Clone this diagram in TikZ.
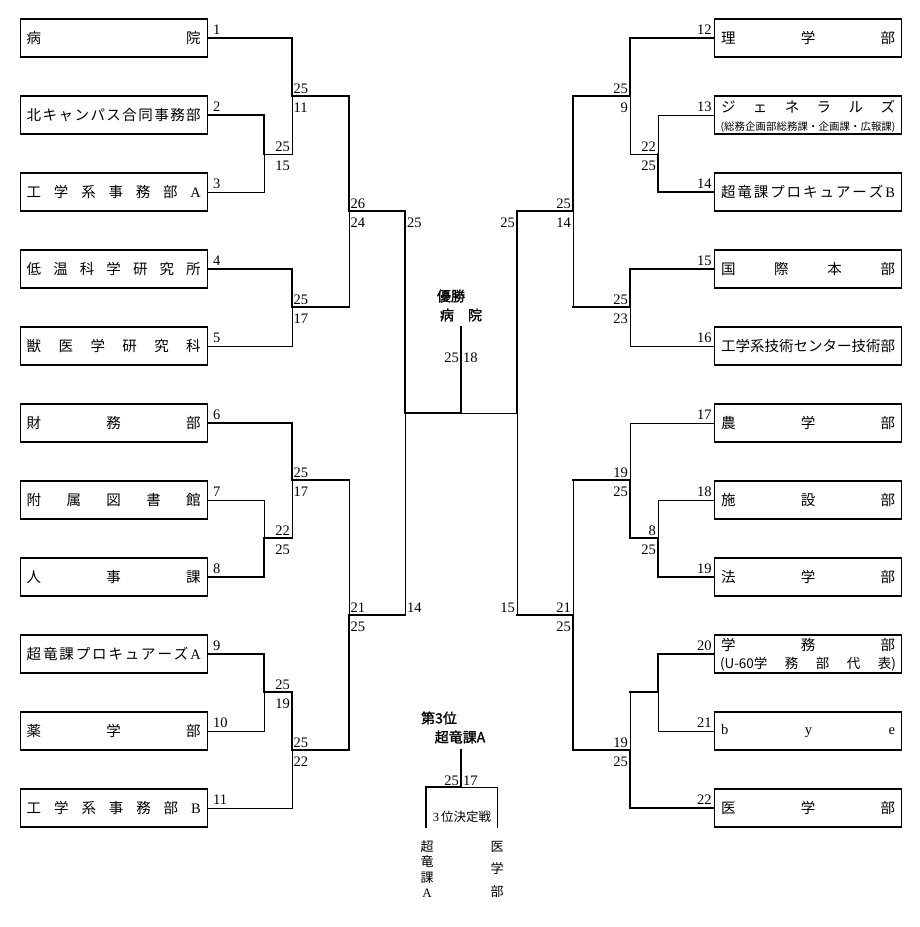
\documentclass[tikz,border=0pt]{standalone}
\usepackage{fontspec}
\setmainfont{Liberation Serif}
\newfontfamily\cjk{Noto Sans CJK JP}
\newfontfamily\cjkb{Noto Sans CJK JP}[FakeBold=1.5]
\newlength\tw \setlength\tw{174pt}
\def\sprloop#1{\ifx#1\relax\else#1\expandafter\sprnext\fi}
\def\sprnext#1{\ifx#1\relax\else\hfill#1\expandafter\sprnext\fi}
\newcommand\spr[1]{\makebox[\tw][s]{\sprloop#1\relax}}
\newcommand\LA{{\rmfamily A}}
\newcommand\LB{{\rmfamily B}}
\tikzset{
  team/.style={draw=black, line width=1.2pt, minimum width=187pt, minimum height=38pt, inner sep=0pt, font=\fontsize{14.5}{16}\selectfont\cjk},
  win/.style={line width=2.3pt, line cap=rect},
  lose/.style={line width=1pt, line cap=rect},
  num/.style={inner sep=0pt, font=\fontsize{14.5}{15}\selectfont},
  txt/.style={inner sep=0pt},
}
\begin{document}
\begin{tikzpicture}[x=1pt, y=-1pt]
\useasboundingbox (0,0) rectangle (920,927);
% ---------- teams left
\node[team] (t1) at (113.75,38) {\spr{病院}};
\node[team] (t2) at (113.75,115) {\spr{北キャンパス合同事務部}};
\node[team] (t3) at (113.75,192) {\spr{工学系事務部\LA}};
\node[team] (t4) at (113.75,269) {\spr{低温科学研究所}};
\node[team] (t5) at (113.75,346) {\spr{獣医学研究科}};
\node[team] (t6) at (113.75,423) {\spr{財務部}};
\node[team] (t7) at (113.75,500) {\spr{附属図書館}};
\node[team] (t8) at (113.75,577) {\spr{人事課}};
\node[team] (t9) at (113.75,654) {\spr{超竜課プロキュアーズ\LA}};
\node[team] (t10) at (113.75,731) {\spr{薬学部}};
\node[team] (t11) at (113.75,808) {\spr{工学系事務部\LB}};
% ---------- teams right
\node[team] (t12) at (808,38) {\spr{理学部}};
\node[team] (t13) at (808,115) {};
\node[txt, font=\fontsize{14.5}{16}\selectfont\cjk] (t13a) at (808,107) {\spr{ジェネラルズ}};
\node[txt, font=\fontsize{10.4}{12}\selectfont\cjk] (t13b) at (808,127) {\makebox[175pt][s]{\sprloop(総務企画部総務課・企画課・広報課)\relax}};
\node[team] (t14) at (808,192) {\spr{超竜課プロキュアーズ\LB}};
\node[team] (t15) at (808,269) {\spr{国際本部}};
\node[team] (t16) at (808,346) {\spr{工学系技術センター技術部}};
\node[team] (t17) at (808,423) {\spr{農学部}};
\node[team] (t18) at (808,500) {\spr{施設部}};
\node[team] (t19) at (808,577) {\spr{法学部}};
\node[team] (t20) at (808,654) {};
\node[txt, font=\fontsize{14.5}{16}\selectfont\cjk] (t20a) at (808,645) {\spr{学務部}};
\node[txt, font=\fontsize{13.5}{15}\selectfont\cjk] (t20b) at (808,664) {\makebox[176pt][s]{(U-60学\hfill 務\hfill 部\hfill 代\hfill 表)}};
\node[team, font=\fontsize{14.5}{16}\selectfont\rmfamily] (t21) at (808,731) {\spr{bye}};
\node[team] (t22) at (808,808) {\spr{医学部}};
% ---------- team numbers
\foreach \i in {1,...,11} {
  \node[num, anchor=base west] (n\i) at ([shift={(5,-3.5)}]t\i.east) {\i};
}
\foreach \i in {12,...,22} {
  \node[num, anchor=base east] (n\i) at ([shift={(-2,-3.5)}]t\i.west) {\i};
}
% ---------- junctions
\coordinate (a1) at (292,96);
\coordinate (a23) at (264,154);
\coordinate (a45) at (292,307);
\coordinate (s1) at (349,211);
\coordinate (a6) at (292,480);
\coordinate (a78) at (264,538);
\coordinate (a910) at (264,692);
\coordinate (a11) at (292,750);
\coordinate (s2) at (349,615);
\coordinate (fL) at (405,413);
\coordinate (fC) at (461,413);
\coordinate (fR) at (517,413);
\coordinate (champ) at (461,327);
\coordinate (b1) at (630,96);
\coordinate (b23) at (658,154);
\coordinate (b45) at (630,307);
\coordinate (r1) at (573,211);
\coordinate (b6) at (630,480);
\coordinate (b78) at (658,538);
\coordinate (b910) at (658,692);
\coordinate (b11) at (630,750);
\coordinate (r2) at (573,615);
% ---------- left lines
\draw[win] (t1.east) -| (a1);
\draw[win] (t2.east) -| (a23);
\draw[lose] (t3.east) -| (a23);
\draw[lose] (a23) -| (a1);
\draw[win] (a1) -| (s1);
\draw[win] (t4.east) -| (a45);
\draw[lose] (t5.east) -| (a45);
\draw[win] (a45) -- (a45 -| s1);
\draw[lose] (a45 -| s1) -- (s1);
\draw[win] (s1) -| (fL);
\draw[win] (t6.east) -| (a6);
\draw[lose] (t7.east) -| (a78);
\draw[win] (t8.east) -| (a78);
\draw[win] (a78) -- (a78 -| a6);
\draw[lose] (a78 -| a6) -- (a6);
\draw[win] (a6) -- (a6 -| s2);
\draw[lose] (a6 -| s2) -- (s2);
\draw[win] (t9.east) -| (a910);
\draw[lose] (t10.east) -| (a910);
\draw[win] (a910) -| (a11);
\draw[lose] (t11.east) -| (a11);
\draw[win] (a11) -| (s2);
\draw[win] (s2) -- (s2 -| fL);
\draw[lose] (s2 -| fL) -- (fL);
\draw[win] (fL) -- (fC);
\draw[win] (fC) -- (champ);
\draw[lose] (fC) -- (fR);
% ---------- right lines
\draw[win] (t12.west) -| (b1);
\draw[lose] (t13.west) -| (b23);
\draw[win] (t14.west) -| (b23);
\draw[lose] (b23) -| (b1);
\draw[win] (b1) -| (r1);
\draw[win] (t15.west) -| (b45);
\draw[lose] (t16.west) -| (b45);
\draw[win] (b45) -- (b45 -| r1);
\draw[lose] (b45 -| r1) -- (r1);
\draw[win] (r1) -| (fR);
\draw[lose] (t17.west) -| (b6);
\draw[lose] (t18.west) -| (b78);
\draw[win] (t19.west) -| (b78);
\draw[win] (b78) -| (b6);
\draw[win] (b6) -- (b6 -| r2);
\draw[lose] (b6 -| r2) -- (r2);
\draw[win] (t20.west) -| (b910);
\draw[lose] (t21.west) -| (b910);
\draw[win] (b910) -- (b910 -| b11);
\draw[lose] (b910 -| b11) -- (b11);
\draw[win] (t22.west) -| (b11);
\draw[win] (b11) -| (r2);
\draw[win] (r2) -- (r2 -| fR);
\draw[lose] (r2 -| fR) -- (fR);
% ---------- scores left
\node[num, anchor=base west] (sa1) at (293.5,93) {25};
\node[num, anchor=base west] (sb1) at (293.5,112) {11};
\node[num, anchor=base east] (sa2) at (290,151) {25};
\node[num, anchor=base east] (sb2) at (290,170) {15};
\node[num, anchor=base west] (sa3) at (293.5,304) {25};
\node[num, anchor=base west] (sb3) at (293.5,323) {17};
\node[num, anchor=base west] (sa4) at (350.5,208) {26};
\node[num, anchor=base west] (sb4) at (350.5,227) {24};
\node[num, anchor=base west] (sa5) at (293.5,477) {25};
\node[num, anchor=base west] (sb5) at (293.5,496) {17};
\node[num, anchor=base east] (sa6) at (290,535) {22};
\node[num, anchor=base east] (sb6) at (290,554) {25};
\node[num, anchor=base east] (sa7) at (290,689) {25};
\node[num, anchor=base east] (sb7) at (290,708) {19};
\node[num, anchor=base west] (sa8) at (293.5,747) {25};
\node[num, anchor=base west] (sb8) at (293.5,766) {22};
\node[num, anchor=base west] (sa9) at (350.5,612) {21};
\node[num, anchor=base west] (sb9) at (350.5,631) {25};
\node[num, anchor=base west] (sfl1) at (407,227) {25};
\node[num, anchor=base west] (sfl2) at (407,612) {14};
% ---------- scores right
\node[num, anchor=base east] (ra1) at (628,93) {25};
\node[num, anchor=base east] (rb1) at (628,112) {9};
\node[num, anchor=base east] (ra2) at (656,151) {22};
\node[num, anchor=base east] (rb2) at (656,170) {25};
\node[num, anchor=base east] (ra3) at (628,304) {25};
\node[num, anchor=base east] (rb3) at (628,323) {23};
\node[num, anchor=base east] (ra4) at (571,208) {25};
\node[num, anchor=base east] (rb4) at (571,227) {14};
\node[num, anchor=base east] (ra5) at (628,477) {19};
\node[num, anchor=base east] (rb5) at (628,496) {25};
\node[num, anchor=base east] (ra6) at (656,535) {8};
\node[num, anchor=base east] (rb6) at (656,554) {25};
\node[num, anchor=base east] (ra7) at (571,612) {21};
\node[num, anchor=base east] (rb7) at (571,631) {25};
\node[num, anchor=base east] (ra8) at (628,747) {19};
\node[num, anchor=base east] (rb8) at (628,766) {25};
\node[num, anchor=base east] (sfr1) at (515,227) {25};
\node[num, anchor=base east] (sfr2) at (515,612) {15};
% ---------- champion
\node[txt, font=\fontsize{14}{16}\selectfont\cjkb] (win1) at (451,296) {優勝};
\node[txt, font=\fontsize{14}{16}\selectfont\cjkb] (win2) at (461,315) {病\hspace{14pt}院};
\node[num, anchor=base east] (fs1) at (459,362) {25};
\node[num, anchor=base west] (fs2) at (463,362) {18};
% ---------- third place
\coordinate (th1) at (461,750);
\coordinate (th2) at (461,787);
\coordinate (thl) at (426,827);
\coordinate (thr) at (497,827);
\draw[win] (th1) -- (th2);
\draw[win] (th2) -| (thl);
\draw[lose] (th2) -| (thr);
\node[txt, font=\fontsize{14}{16}\selectfont\cjkb] (third1) at (439,718) {第3位};
\node[txt, font=\fontsize{14}{16}\selectfont\cjkb] (third2) at (460,737) {超竜課A};
\node[num, anchor=base east] (ts1) at (459,785) {25};
\node[num, anchor=base west] (ts2) at (463,785) {17};
\node[txt, font=\fontsize{12.5}{14}\selectfont] (third3) at (462,817) {3\,{\cjk 位決定戦}};
\node[txt, font=\fontsize{13}{15.5}\selectfont\cjk, align=center] (v1) at (427,869) {超\\竜\\課\\{\rmfamily A}};
\node[txt, font=\fontsize{13}{22.5}\selectfont\cjk, align=center] (v2) at (497,869) {医\\学\\部};
\end{tikzpicture}
\end{document}
